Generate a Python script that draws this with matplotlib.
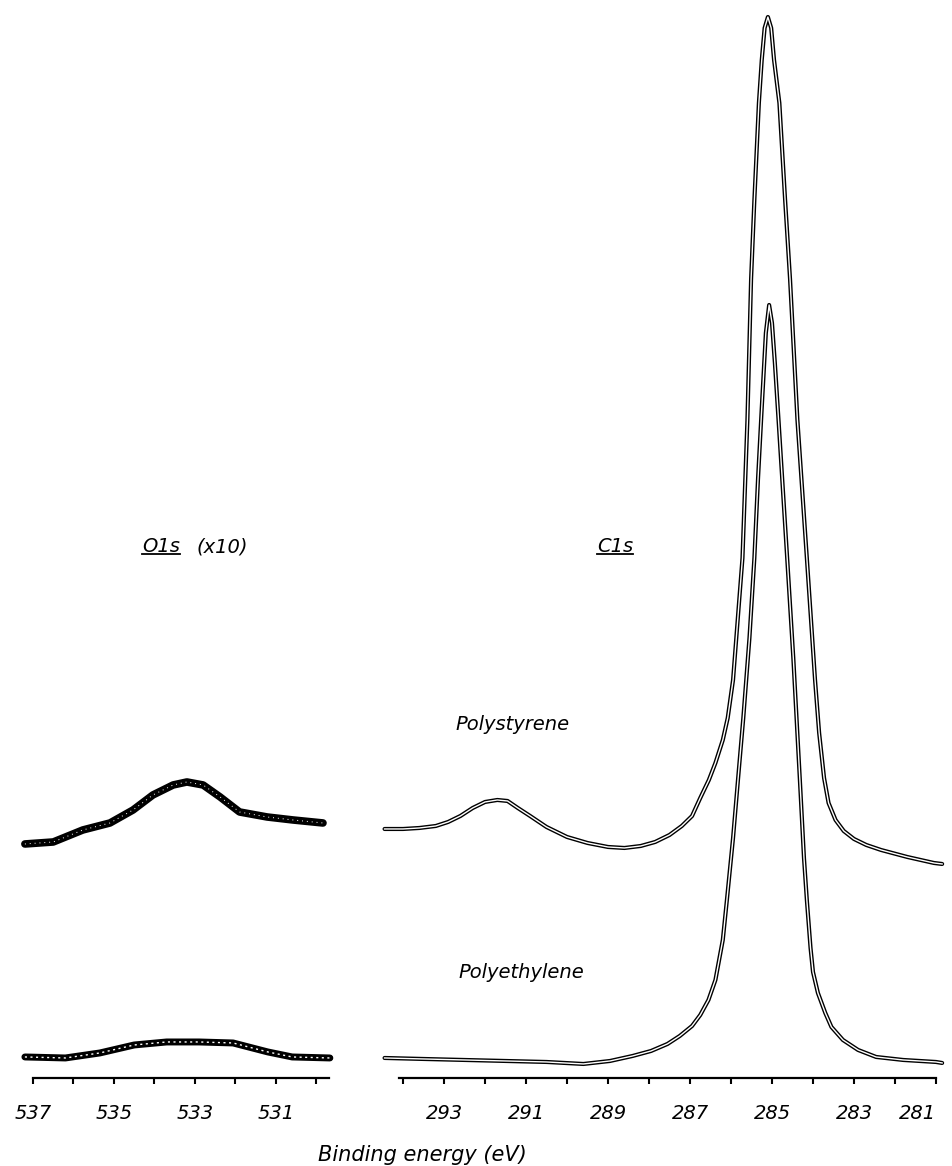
import matplotlib
matplotlib.use('Agg')
import matplotlib.pyplot as plt
from matplotlib.lines import Line2D

# C1s traces: binding energy (eV) and intensity (arb. units)
c1s_ps_energy = [294.45, 294.0, 293.6, 293.2, 292.9, 292.6, 292.3, 292.0, 291.7, 291.45,
                 291.2, 290.9, 290.5, 290.0, 289.5, 289.0, 288.6, 288.2, 287.85, 287.5,
                 287.2, 286.95, 286.75, 286.54, 286.38, 286.2, 286.08, 285.95, 285.72, 285.6,
                 285.51, 285.43, 285.32, 285.25, 285.18, 285.1, 285.02, 284.95, 284.82, 284.68,
                 284.56, 284.38, 284.15, 283.95, 283.85, 283.73, 283.62, 283.45, 283.25, 283.0,
                 282.7, 282.34, 281.7, 281.05, 280.85]
c1s_ps_counts = [249, 249, 250, 252, 256, 262, 270, 276, 278, 277,
                 270, 262, 251, 241, 235, 231, 230, 232, 236, 243,
                 252, 262, 280, 298, 315, 338, 360, 398, 520, 658,
                 799, 878, 975, 1018, 1050, 1061, 1050, 1018, 975, 878,
                 799, 658, 520, 398, 345, 300, 275, 258, 247, 239,
                 233, 228, 221, 215, 214]

c1s_pe_energy = [294.45, 293.5, 292.5, 291.5, 290.5, 289.6, 288.95, 288.4, 287.95, 287.55,
                 287.25, 286.95, 286.75, 286.55, 286.38, 286.2, 286.1, 285.95, 285.83, 285.7,
                 285.55, 285.43, 285.34, 285.25, 285.15, 285.07, 285.0, 284.93, 284.85, 284.63,
                 284.48, 284.32, 284.22, 284.15, 284.06, 284.0, 283.88, 283.7, 283.55, 283.27,
                 282.9, 282.46, 281.8, 281.0, 280.85]
c1s_pe_counts = [20, 19, 18, 17, 16, 14, 17, 22, 27, 34,
                 42, 52, 63, 78, 98, 138, 178, 240, 298, 360,
                 440, 520, 600, 670, 745, 773, 755, 715, 664, 520,
                 420, 298, 220, 178, 130, 106, 85, 65, 51, 38,
                 28, 21, 18, 16, 15]

# O1s traces (x10)
o1s_ps_energy = [537.2, 536.5, 535.77, 535.1, 534.53, 534.04, 533.54, 533.2, 532.8,
                 532.38, 531.9, 531.22, 530.58, 529.84]
o1s_ps_counts = [234, 236, 248, 255, 268, 283, 293, 296, 293, 281, 266, 261, 258, 255]

o1s_pe_energy = [537.2, 536.2, 535.35, 534.5, 533.7, 532.9, 532.06, 531.2, 530.6, 529.67]
o1s_pe_counts = [21, 20, 25, 33, 36, 36, 35, 26, 21, 20]

o1s_ticks = list(range(537, 529, -1))
c1s_ticks = list(range(294, 280, -1))

fig = plt.figure(figsize=(9.52, 11.66), dpi=100)
ax_o = fig.add_axes([0.0219, 0.0755, 0.3297, 0.9245])
ax_c = fig.add_axes([0.3975, 0.0755, 0.5986, 0.9245])


def hollow(ax, x, y, outer, inner, dashes=None):
    ax.plot(x, y, color='black', lw=outer, solid_joinstyle='round', solid_capstyle='round')
    if dashes:
        ax.plot(x, y, color='white', lw=inner, dashes=dashes)
    else:
        ax.plot(x, y, color='white', lw=inner, solid_joinstyle='round')


hollow(ax_o, o1s_ps_energy, o1s_ps_counts, 5.5, 0.7, dashes=(1, 4))
hollow(ax_o, o1s_pe_energy, o1s_pe_counts, 5.0, 1.0, dashes=(1.5, 2.5))
hollow(ax_c, c1s_ps_energy, c1s_ps_counts, 3.0, 1.0)
hollow(ax_c, c1s_pe_energy, c1s_pe_counts, 3.0, 1.0)

ax_o.set_xlim(537.3, 529.55)
ax_c.set_xlim(294.6, 280.7)
ax_o.spines['bottom'].set_bounds(537, 529.7)
ax_c.spines['bottom'].set_bounds(294.1, 281)

for ax, ticks in [(ax_o, o1s_ticks), (ax_c, c1s_ticks)]:
    ax.set_ylim(0, 1078)
    for s in ['top', 'left', 'right']:
        ax.spines[s].set_visible(False)
    ax.spines['bottom'].set_linewidth(1.6)
    ax.set_yticks([])
    ax.set_xticks(ticks)
    ax.set_xticklabels([str(t) if t % 2 else '' for t in ticks],
                       fontsize=14, fontstyle='italic')
    ax.tick_params(axis='x', direction='out', length=4, width=1.5, pad=15)
    ax.patch.set_visible(False)

# last label sits against the right edge
ax_c.get_xticklabels()[-1].set_horizontalalignment('right')

W, H = 952, 1166


def ftext(x, y, s, size=14, **kw):
    return fig.text(x / W, 1 - y / H, s, fontsize=size, fontstyle='italic', va='center', **kw)


t_o = ftext(142, 547, 'O1s', ha='left')
ftext(196, 547, '(x10)', ha='left')
t_c = ftext(615, 547, 'C1s', ha='center')
ftext(513, 724, 'Polystyrene', ha='center')
ftext(521, 973, 'Polyethylene', ha='center')
ftext(422, 1155, 'Binding energy (eV)', size=15, ha='center')

# underline the core-level labels
fig.canvas.draw()
r = fig.canvas.get_renderer()
for t in [t_o, t_c]:
    bb = t.get_window_extent(r)
    yline = bb.y0 + 3
    fig.add_artist(Line2D([bb.x0 / W, bb.x1 / W], [yline / H, yline / H],
                          transform=fig.transFigure, color='black', lw=1.3))

fig.savefig('out.png', dpi=100)
